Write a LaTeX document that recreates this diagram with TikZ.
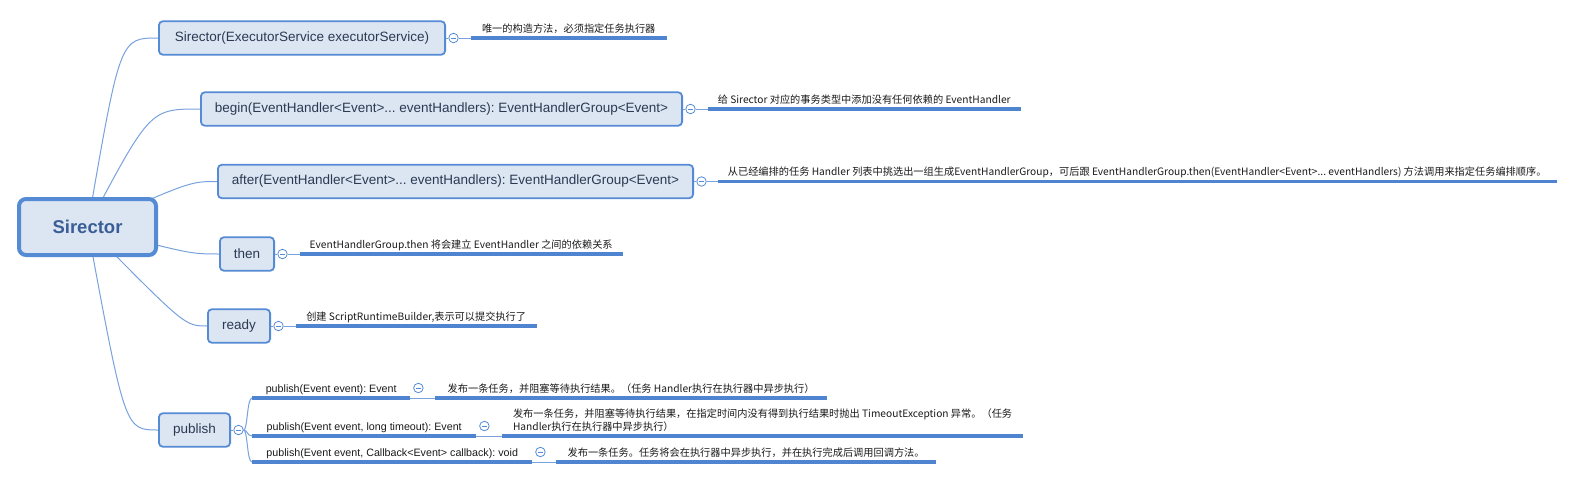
\documentclass[tikz,border=0pt]{standalone}
\usepackage{fontspec}
\setmainfont{Liberation Sans}
\newfontfamily\cjkfont{Noto Sans CJK SC}
\usetikzlibrary{backgrounds}
\frenchspacing
\definecolor{boxfill}{HTML}{DCE6F3}
\definecolor{boxline}{HTML}{558BD5}
\definecolor{conncol}{HTML}{77A2DD}
\definecolor{ulcol}{HTML}{4F84D1}
\definecolor{boxtext}{HTML}{2B3A52}
\definecolor{roottext}{HTML}{3A5E95}
\definecolor{labtext}{HTML}{1A1A1A}
\begin{document}
\frenchspacing
\begin{tikzpicture}[x=1pt,y=-1pt,
  topic/.style={draw=boxline, line width=1.8pt, fill=boxfill, rounded corners=4pt, text=boxtext, font=\fontsize{13.5}{16}\selectfont, inner sep=0pt, minimum height=33.5pt},
  rootbox/.style={draw=boxline, line width=4pt, fill=boxfill, rounded corners=7pt, text=roottext, font=\fontsize{18.5}{21}\selectfont\bfseries, inner sep=0pt, minimum width=137pt, minimum height=56pt},
  collapse/.style={circle, draw=boxline, fill=white, line width=0.8pt, minimum size=9.5pt, inner sep=0pt,
     path picture={\draw[boxline, line width=0.8pt] ([xshift=-2.3pt]path picture bounding box.center) -- ([xshift=2.3pt]path picture bounding box.center);}},
  notelab/.style={font=\cjkfont\fontsize{10.2}{13}\selectfont, text=labtext, inner xsep=0pt, inner ysep=3.5pt, text depth=2pt, anchor=south west},
  subitem/.style={font=\fontsize{10.7}{13}\selectfont, text=labtext, inner xsep=0pt, inner ysep=3.5pt, text depth=2pt, anchor=south west},
  underl/.style={draw=ulcol, line width=3.2pt},
  branch/.style={draw=conncol, line width=1pt},
]
\useasboundingbox (0,0) rectangle (1575,479);

% main topics
\node[rootbox] (root) at (87.5,227) {Sirector};
\node[topic, minimum width=286.2pt] (b1) at (302,38) {Sirector(ExecutorService executorService)};
\node[topic, minimum width=481.2pt] (b2) at (441.5,109) {begin(EventHandler<Event>... eventHandlers): EventHandlerGroup<Event>};
\node[topic, minimum width=475.2pt] (b3) at (455.5,181.5) {after(EventHandler<Event>... eventHandlers): EventHandlerGroup<Event>};
\node[topic, minimum width=54.2pt] (b4) at (247,254) {then};
\node[topic, minimum width=62.2pt] (b5) at (239,326) {ready};
\node[topic, minimum width=71.2pt] (b6) at (194.5,430) {publish};

% collapse circles
\node[collapse] (c1) at ([xshift=7.5pt]b1.east) {};
\node[collapse] (c2) at ([xshift=7.5pt]b2.east) {};
\node[collapse] (c3) at ([xshift=7.5pt]b3.east) {};
\node[collapse] (c4) at ([xshift=7.5pt]b4.east) {};
\node[collapse] (c5) at ([xshift=7.5pt]b5.east) {};
\node[collapse] (c6) at ([xshift=7.5pt]b6.east) {};

% notes
\node[notelab, minimum width=196pt] (n1) at ([xshift=17pt]c1.center) {唯一的构造方法，必须指定任务执行器};
\node[notelab, minimum width=313pt] (n2) at ([xshift=17pt]c2.center) {给 Sirector 对应的事务类型中添加没有任何依赖的 EventHandler};
\node[notelab, minimum width=839pt] (n3) at ([xshift=16pt]c3.center) {从已经编排的任务 Handler 列表中挑选出一组生成EventHandlerGroup，可后跟 EventHandlerGroup.then(EventHandler<Event>... eventHandlers) 方法调用来指定任务编排顺序。};
\node[notelab, minimum width=323pt] (n4) at ([xshift=17pt]c4.center) {EventHandlerGroup.then 将会建立 EventHandler 之间的依赖关系};
\node[notelab, minimum width=241pt] (n5) at ([xshift=17pt]c5.center) {创建 ScriptRuntimeBuilder,表示可以提交执行了};

% publish sub items
\node[subitem, minimum width=158pt] (p1) at (252,398) {publish(Event event): Event};
\node[subitem, minimum width=224pt] (p2) at (252,436) {publish(Event event, long timeout): Event};
\node[subitem, minimum width=280pt] (p3) at (252,462) {publish(Event event, Callback<Event> callback): void};
\node[collapse] (pc1) at ([xshift=8pt,yshift=10pt]p1.south east) {};
\node[collapse] (pc2) at ([xshift=8pt,yshift=10pt]p2.south east) {};
\node[collapse] (pc3) at ([xshift=8pt,yshift=10pt]p3.south east) {};
\node[notelab, minimum width=391pt] (q1) at ([xshift=25pt]p1.south east) {发布一条任务，并阻塞等待执行结果。（任务 Handler执行在执行器中异步执行）};
\node[notelab, minimum width=520pt, align=left] (q2) at ([xshift=26pt]p2.south east) {发布一条任务，并阻塞等待执行结果，在指定时间内没有得到执行结果时抛出 TimeoutException 异常。（任务\\Handler执行在执行器中异步执行）};
\node[notelab, minimum width=379pt] (q3) at ([xshift=24pt]p3.south east) {发布一条任务。任务将会在执行器中异步执行，并在执行完成后调用回调方法。};

\begin{scope}[on background layer]
  \draw[branch] (root.center) .. controls ([xshift=-38pt]b1.west) .. (b1.west);
  \draw[branch] (root.center) .. controls ([xshift=-50pt]b2.west) .. (b2.west);
  \draw[branch] (root.center) .. controls ([xshift=-27pt]b3.west) .. (b3.west);
  \draw[branch] (root.center) .. controls ([xshift=-29pt]b4.west) .. (b4.west);
  \draw[branch] (root.center) .. controls ([xshift=-22pt]b5.west) .. (b5.west);
  \draw[branch] (root.center) .. controls ([xshift=-33pt]b6.west) .. (b6.west);
  \foreach \b/\c in {b1/c1,b2/c2,b3/c3,b4/c4,b5/c5,b6/c6}
    \draw[branch] (\b.east) -- (\c.west);
  \foreach \c/\n in {c1/n1,c2/n2,c3/n3,c4/n4,c5/n5}
    \draw[branch] (\c.east) -- (\n.south west);
  \foreach \p in {p1,p2,p3}
    \draw[branch] (c6.east) .. controls +(4,0) and +(-5,0) .. (\p.south west);
  \foreach \p/\q in {p1/q1,p2/q2,p3/q3}
    \draw[branch] (\p.south east) -- (\q.south west);
\end{scope}

% underlines
\foreach \n in {n1,n2,n3,n4,n5,p1,p2,p3,q1,q2,q3}
  \draw[underl] (\n.south west) -- (\n.south east);
\end{tikzpicture}
\end{document}
